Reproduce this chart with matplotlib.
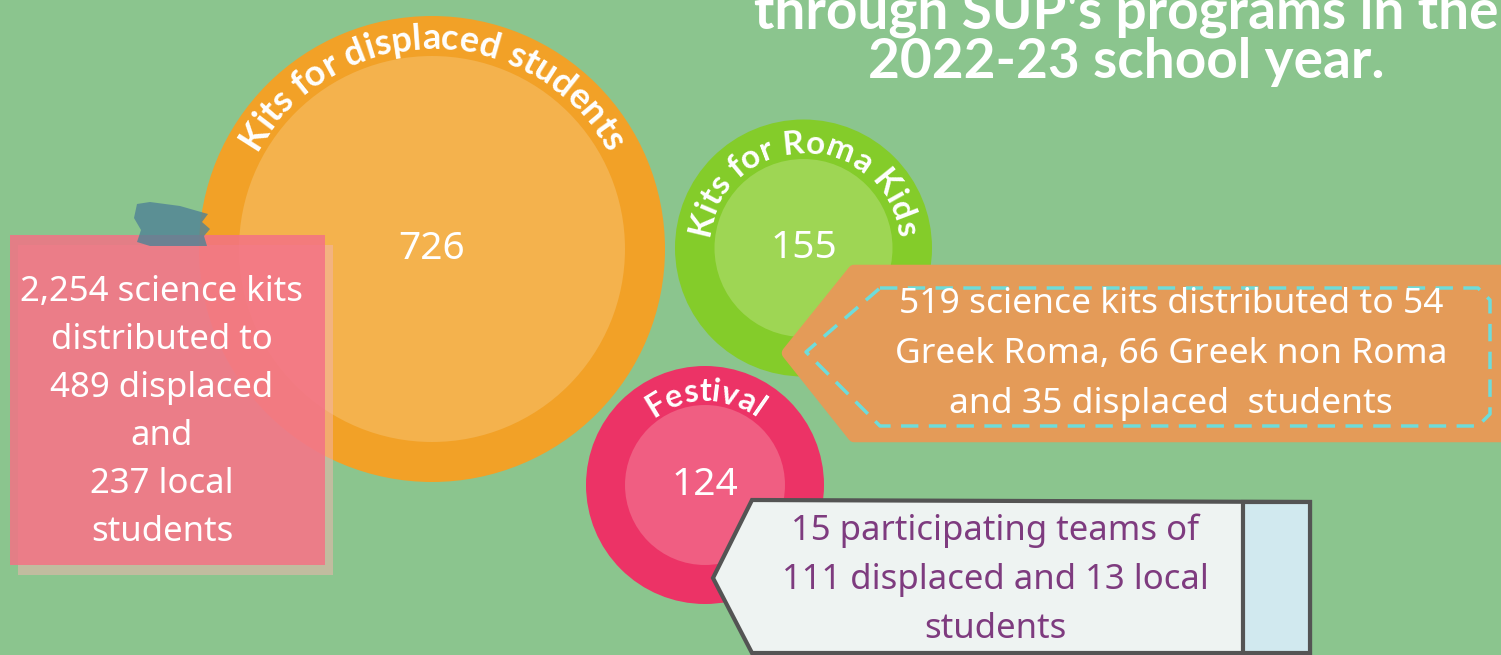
import numpy as np
import matplotlib
matplotlib.use("Agg")
import matplotlib.pyplot as plt
from matplotlib.patches import Circle, Polygon, Rectangle
from matplotlib.lines import Line2D
from matplotlib.font_manager import FontProperties

W, H = 1501, 655
FONT = "Noto Sans"
BOLD = "Lato"

# chart content
circle_labels = ["Kits for displaced students", "Kits for Roma Kids", "Festival"]
circle_values = [726, 155, 124]
title_lines = ["through SUP's programs in the", "2022-23 school year."]
note_lines = ["2,254 science kits", "distributed to", "489 displaced", "and",
              "237 local", "students"]
roma_lines = ["519 science kits distributed to 54", "Greek Roma, 66 Greek non Roma",
              "and 35 displaced  students"]
festival_lines = ["15 participating teams of", "111 displaced and 13 local", "students"]

# layout: (cx, cy, outer r, inner r, outer col, inner col, label radius, label size)
circle_layout = [
    (432, 249, 233, 193, "#F2A127", "#F4B24D", 200, 26),
    (803.5, 248, 128.5, 89, "#84CC2A", "#9ED654", 95, 24),
    (705, 485, 119, 80, "#EC3366", "#F05E82", 84, 23),
]

fig = plt.figure(figsize=(W / 100, H / 100), dpi=100)
fig.patch.set_facecolor("#8BC58E")
ax = fig.add_axes([0, 0, 1, 1])
ax.set_xlim(0, W)
ax.set_ylim(H, 0)
ax.set_aspect("equal")
ax.axis("off")
rend = fig.canvas.get_renderer()


def text_w(s, fp):
    return rend.get_text_width_height_descent(s, fp, ismath=False)[0]


def arc_text(s, cx, cy, r, size, mid=90):
    fp = FontProperties(family=BOLD, weight="bold", size=size)
    total = text_w(s, fp)
    for i, ch in enumerate(s):
        if ch == " ":
            continue
        c = text_w(s[:i + 1], fp) - text_w(ch, fp) / 2
        th = np.radians(mid) - (c - total / 2) / r
        ax.text(cx + r * np.cos(th), cy - r * np.sin(th), ch,
                rotation=np.degrees(th) - 90, rotation_mode="anchor",
                ha="center", va="baseline", fontproperties=fp, color="white",
                zorder=5)


# bubbles
for lab, val, (cx, cy, ro, ri, co, ci, rt, fs) in zip(circle_labels, circle_values, circle_layout):
    ax.add_patch(Circle((cx, cy), ro, fc=co, ec="none", zorder=1))
    ax.add_patch(Circle((cx, cy), ri, fc=ci, ec="none", zorder=2))
    arc_text(lab, cx, cy, rt, fs)
    ax.text(cx, cy, str(val), ha="center", va="center", color="white",
            fontsize=28, family=FONT, zorder=5)

# title (top right, partly cut off as in the source)
for i, line in enumerate(title_lines):
    ax.text(1126, 28 + 50 * i, line, ha="center", va="baseline", color="white",
            fontsize=39.5, fontweight="bold", family=BOLD, zorder=5)

# sticky note
ax.add_patch(Rectangle((18, 245), 315, 330, fc="#F3B5AF", alpha=0.52, ec="none", zorder=6))
ax.add_patch(Rectangle((10, 235), 315, 330, fc="#F37285", alpha=0.85, ec="none", zorder=7))
tape = [(137, 204), (150, 202), (180, 206), (208, 214), (202, 222), (210, 229),
        (204, 236), (207, 246), (150, 246), (137, 242), (141, 230), (134, 218)]
ax.add_patch(Polygon(tape, closed=True, fc="#4F8296", alpha=0.8, ec="none", zorder=8))
for i, line in enumerate(note_lines):
    ax.text(162, 301 + 48 * i, line, ha="center", va="baseline", color="white",
            fontsize=25, family=FONT, zorder=9)

# orange tag
tag = [(854, 271), (1515, 271), (1515, 436), (854, 436), (788, 353)]
ax.add_patch(Polygon(tag, closed=True, fc="#E49B58", ec="#E49B58", lw=9,
                     joinstyle="round", zorder=6))
dash_x = [880, 1478, 1490, 1490, 1478, 880, 806, 880]
dash_y = [288, 288, 300, 414, 426, 426, 352, 288]
ax.add_line(Line2D(dash_x, dash_y, color="#6EDCDA", lw=2.5, dashes=(5, 3),
                   solid_joinstyle="round", zorder=7))
for i, line in enumerate(roma_lines):
    ax.text(1171, 313 + 50 * i, line, ha="center", va="baseline", color="white",
            fontsize=25.5, family=FONT, zorder=8)

# pencil
pencil = [(752, 500), (1310, 502), (1310, 653), (752, 653), (713, 578)]
ax.add_patch(Polygon(pencil, closed=True, fc="#EEF3F2", ec="#545454", lw=3,
                     joinstyle="miter", zorder=6))
ax.add_patch(Polygon([(1243, 502), (1310, 502), (1310, 653), (1243, 653)], closed=True,
                     fc="#D1E9EF", ec="#545454", lw=3, zorder=7))
for i, line in enumerate(festival_lines):
    ax.text(995, 540 + 49 * i, line, ha="center", va="baseline", color="#7E3B7F",
            fontsize=25, family=FONT, zorder=8)

fig.savefig("out.png", dpi=100, facecolor=fig.get_facecolor())
